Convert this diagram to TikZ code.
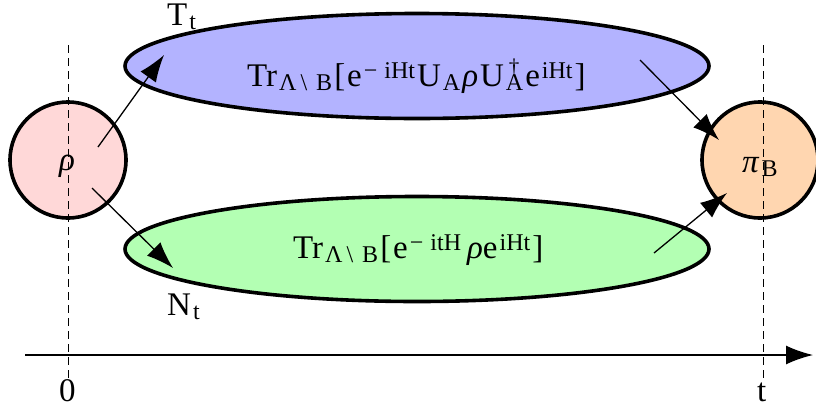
\documentclass[tikz,border=0pt]{standalone}
\usepackage{fontspec}
\setmainfont{Liberation Serif}
\usetikzlibrary{arrows.meta,shapes.geometric}
\newcommand{\lo}[1]{\raisebox{-4pt}{\fontsize{24}{26}\selectfont #1}}
\newcommand{\hi}[1]{\raisebox{8pt}{\fontsize{24}{26}\selectfont #1}}
\newcommand{\dg}{\raisebox{13pt}{\fontsize{21}{24}\selectfont\hspace{3pt}†}}
\newcommand{\gp}{\hspace{2pt}}
\begin{document}
\begin{tikzpicture}[x=1pt,y=-1pt,
  blob/.style={ellipse,draw=black,line width=3.6pt,minimum width=584pt,minimum height=105pt,inner sep=0pt},
  state/.style={circle,draw=black,line width=3.6pt,minimum size=116pt,inner sep=0pt},
  flow/.style={line width=1.3pt,-{Latex[length=27pt,width=19pt]}},
  guide/.style={line width=1pt,dash pattern=on 8pt off 5pt},
  lbl/.style={font=\fontsize{33}{36}\selectfont,inner sep=0pt,anchor=base west}]
\useasboundingbox (0,0) rectangle (816,410);
\definecolor{pinkfill}{RGB}{255,216,216}
\definecolor{bluefill}{RGB}{179,179,255}
\definecolor{greenfill}{RGB}{179,255,179}
\definecolor{peachfill}{RGB}{255,214,176}
% time axis
\coordinate (ax0) at (25,355);
\coordinate (ax1) at (813,355);
\draw[line width=1.6pt,-{Latex[length=27pt,width=19pt]}] (ax0) -- (ax1);
% ellipses
\node[blob,fill=bluefill] (T) at (417,66) {};
\node[lbl] (Ttext) at (247,86) {Tr\gp\lo{Λ\,\textbackslash\hspace{9pt}B}\gp[\gp e\gp\hi{−\hspace{7pt}iHt}\gp U\gp\lo{A}\gp\textit{ρ}\gp U\gp\rlap{\dg}\lo{A}\gp e\gp\hi{iHt}\gp]};
\node[blob,fill=greenfill] (N) at (417,249) {};
\node[lbl] (Ntext) at (293,258) {Tr\gp\lo{Λ\,\textbackslash\hspace{9pt}B}\gp[\gp e\gp\hi{−\hspace{7pt}itH}\hspace{6pt}\textit{ρ}e\gp\hi{iHt}\gp]};
% circles
\node[state,fill=pinkfill] (rho) at (68,160) {};
\node[lbl] (rhotext) at (59,170) {\textit{ρ}};
\node[state,fill=peachfill] (pi) at (760,160) {};
\node[lbl] (pitext) at (742,172) {\textit{π}\gp\lo{B}};
% dashed guides
\coordinate (g0a) at (68,45); \coordinate (g0b) at (68,382);
\coordinate (gta) at (763,45); \coordinate (gtb) at (763,382);
\draw[guide] (g0a) -- (g0b);
\draw[guide] (gta) -- (gtb);
% arrows
\coordinate (a1s) at (98,147); \coordinate (a1e) at (164,55);
\coordinate (a2s) at (640,60); \coordinate (a2e) at (719,140);
\coordinate (a3s) at (92,188); \coordinate (a3e) at (173,268);
\coordinate (a4s) at (654,253); \coordinate (a4e) at (727,193);
\draw[flow] (a1s) -- (a1e);
\draw[flow] (a2s) -- (a2e);
\draw[flow] (a3s) -- (a3e);
\draw[flow] (a4s) -- (a4e);
% labels
\node[lbl] (Tt) at (167,25) {T\gp\lo{t}};
\node[lbl] (Nt) at (167,315) {N\gp\lo{t}};
\node[lbl] (zero) at (59,401) {0};
\node[lbl] (tlab) at (757,401) {t};
\end{tikzpicture}
\end{document}
